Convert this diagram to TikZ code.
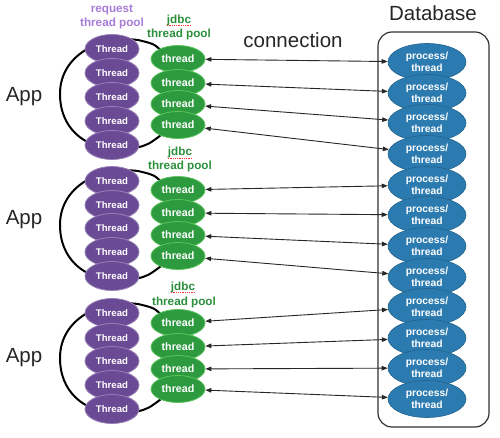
\documentclass[tikz,border=0pt]{standalone}
\usepackage{fontspec}
\setmainfont{Liberation Sans}
\usetikzlibrary{arrows.meta,calc,backgrounds,shapes.geometric}
\definecolor{pur}{HTML}{6B4A95}
\definecolor{purlab}{HTML}{A77CD8}
\definecolor{grn}{HTML}{2E9A3F}
\definecolor{grnrim}{HTML}{5CC25C}
\definecolor{grnlab}{HTML}{2C8F3C}
\definecolor{blu}{HTML}{2C7BB0}
\begin{document}
\begin{tikzpicture}[x=1pt,y=-1pt,
  pth/.style={ellipse, fill=pur, draw=pur!70!white, line width=0.8pt, minimum width=54pt, minimum height=29pt, inner sep=0pt, text=white, font=\bfseries\fontsize{9.6}{11}\selectfont},
  gth/.style={ellipse, fill=grn, draw=grnrim, line width=0.8pt, minimum width=54pt, minimum height=27pt, inner sep=0pt, text=white, font=\bfseries\fontsize{10.7}{12}\selectfont},
  bth/.style={ellipse, fill=blu, draw=blu!80!black, line width=0.6pt, minimum width=78pt, minimum height=37pt, inner sep=0pt, text=white, align=center, font=\bfseries\fontsize{10.3}{12.2}\selectfont},
  big/.style={font=\fontsize{20.5}{24}\selectfont, text=black!85},
  plab/.style={text=purlab, anchor=base, inner sep=0pt, font=\bfseries\fontsize{11.7}{14}\selectfont},
  glab/.style={text=grnlab, anchor=base, inner sep=0pt, font=\bfseries\fontsize{11.7}{14}\selectfont},
  squig/.style={red!80, densely dotted, line width=0.8pt},
  conn/.style={{Triangle[length=6pt,width=4.5pt]}-{Triangle[length=6pt,width=4.5pt]}, line width=0.9pt, black!85},
  looparc/.style={line width=2pt, black},
  dbbox/.style={draw=black!80, line width=1.2pt, rounded corners=14pt, minimum width=111pt, minimum height=395pt, inner sep=0pt}
  ]
\useasboundingbox (0,0) rectangle (500,438);

% titles
\node[big] (dbt) at (433,13) {Database};
\node[big] (cont) at (293,40) {connection};
\node[big] (app1) at (24,97) {App};
\node[big] (app2) at (24,220) {App};
\node[big] (app3) at (24,358) {App};

% request pool label
\node[plab] (rq1) at (112,12.7) {request};
\node[plab] (rq2) at (112,26.7) {thread pool};

% jdbc labels
\node[glab] (jd1) at (179,23.3) {jdbc};
\node[glab] (tp1) at (179,37.3) {thread pool};
\node[glab] (jd2) at (180,156) {jdbc};
\node[glab] (tp2) at (180,169.5) {thread pool};
\node[glab] (jd3) at (183,290.5) {jdbc};
\node[glab] (tp3) at (184,305.5) {thread pool};
\foreach \j in {1,2,3}
  \draw[squig] ([yshift=-2.3pt]jd\j.base west) -- ([yshift=-2.3pt]jd\j.base east);

% request threads
\foreach \y [count=\i] in {49,73,97,121,145} \node[pth] (pa\i) at (112,\y) {Thread};
\foreach \y [count=\i] in {181,205,228,252,276} \node[pth] (pb\i) at (112,\y) {Thread};
\foreach \y [count=\i] in {313,338,361,385,409} \node[pth] (pc\i) at (112,\y) {Thread};

% jdbc threads
\foreach \y [count=\i] in {59,83,104,125} \node[gth] (ga\i) at (178,\y) {thread};
\foreach \y [count=\i] in {190,213,235,256} \node[gth] (gb\i) at (178,\y) {thread};
\foreach \y [count=\i] in {323,347,369,389} \node[gth] (gc\i) at (178,\y) {thread};

% database
\node[dbbox] (db) at (433.5,229.5) {};
\foreach \y [count=\i] in {62,93,123,154,185,215,246,277,307,338,368,399}
  \node[bth] (b\i) at (427,\y) {process/\\thread};

% loops behind the request pools
\begin{scope}[on background layer]
\foreach \c in {pa3,pb3,pc3}
  \draw[looparc] ($(\c)+(53,-42)$) .. controls ($(\c)+(43,-53)$) .. ($(\c)+(26,-57)$)
    .. controls ($(\c)+(-12,-62)$) and ($(\c)+(-52,-42)$) .. ($(\c)+(-52,-3)$)
    .. controls ($(\c)+(-52,38)$) and ($(\c)+(-17,58)$) .. ($(\c)+(23,51)$)
    .. controls ($(\c)+(36,48)$) .. ($(\c)+(53,35)$);
\end{scope}

% connections
\draw[conn] (ga1) -- (b1);
\draw[conn] (ga2) -- (b2);
\draw[conn] (ga3) -- (b3);
\draw[conn] (ga4) -- (b4);
\draw[conn] (gb1) -- (b5);
\draw[conn] (gb2) -- (b6);
\draw[conn] (gb3) -- (b7);
\draw[conn] (gb4) -- (b8);
\draw[conn] (gc1) -- (b9);
\draw[conn] (gc2) -- (b10);
\draw[conn] (gc3) -- (b11);
\draw[conn] (gc4) -- (b12);
\end{tikzpicture}
\end{document}
